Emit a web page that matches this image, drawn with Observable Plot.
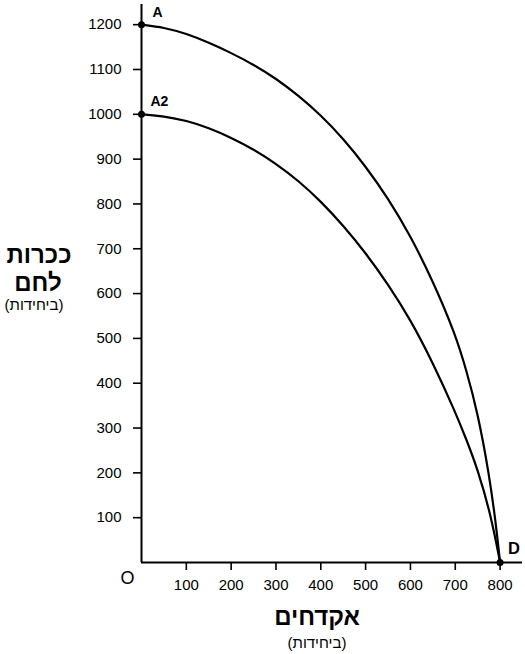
<!DOCTYPE html>
<html><head><meta charset="utf-8">
<script src="https://cdn.jsdelivr.net/npm/d3@7"></script>
<script src="https://cdn.jsdelivr.net/npm/@observablehq/plot@0.6"></script>
<style>
body{margin:0;background:#fff;}
#wrap{position:relative;width:525px;height:654px;font-family:"Liberation Sans",Arial,"DejaVu Sans",sans-serif;color:#000;}
.t{position:absolute;direction:rtl;text-align:center;white-space:nowrap;}
</style></head>
<body><div id="wrap"></div>
<script>
const xTicks = [100,200,300,400,500,600,700,800];
const yTicks = [100,200,300,400,500,600,700,800,900,1000,1100,1200];
const curveA_x = [0,50,100,150,200,250,300,350,400,450,500,550,600,650,700,725,750,775,790,800];
const curveA_y = [1200,1194,1180,1160,1137,1111,1080,1042,998,946,884,813,729,628,510,428,334,200,92,0];
const curveA2_x = [0,50,100,150,200,250,300,350,400,450,500,550,600,650,700,725,750,780,800];
const curveA2_y = [1000,996,986,970,948,922,890,852,806,752,691,621,542,446,336,274,208,104,0];
const pointLabels = ["A","A2","D"];
const pointX = [0,0,800];
const pointY = [1200,1000,0];
const yTitle = ["ככרות","לחם","(ביחידות)"];
const xTitle = ["אקדחים","(ביחידות)"];

const lineA = curveA_x.map((x,i)=>({x, y:curveA_y[i]}));
const lineA2 = curveA2_x.map((x,i)=>({x, y:curveA2_y[i]}));
const pts = pointLabels.map((l,i)=>({l, x:pointX[i], y:pointY[i]}));

const chart = Plot.plot({
  width:525, height:654,
  marginLeft:141, marginRight:3, marginTop:4, marginBottom:92,
  style:{fontFamily:'"Liberation Sans",Arial,sans-serif', color:"#000", background:"#fff"},
  x:{domain:[0,850]},
  y:{domain:[0,1245]},
  marks:[
    Plot.axisX({ticks:xTicks, tickSize:8, tickPadding:9, fontSize:15, label:null, strokeWidth:1.6, tickFormat:d=>String(d)}),
    Plot.axisY({ticks:yTicks, tickSize:8, tickPadding:12, fontSize:15, label:null, strokeWidth:1.6, tickFormat:d=>String(d)}),
    Plot.ruleY([0], {strokeWidth:2}),
    Plot.ruleX([0], {strokeWidth:2}),
    Plot.line(lineA, {x:"x", y:"y", curve:"basis", strokeWidth:2.2, stroke:"#000"}),
    Plot.line(lineA2, {x:"x", y:"y", curve:"basis", strokeWidth:2.2, stroke:"#000"}),
    Plot.dot(pts, {x:"x", y:"y", r:3.5, fill:"#000"}),
    Plot.text(pts.filter(d=>d.l==="A"), {x:"x", y:"y", text:"l", dx:11, dy:-12, textAnchor:"start", fontWeight:"bold", fontSize:14}),
    Plot.text(pts.filter(d=>d.l==="A2"), {x:"x", y:"y", text:"l", dx:9, dy:-13, textAnchor:"start", fontWeight:"bold", fontSize:14}),
    Plot.text(pts.filter(d=>d.l==="D"), {x:"x", y:"y", text:"l", dx:8, dy:-14, textAnchor:"start", fontWeight:"bold", fontSize:16.5}),
    Plot.text([{x:0,y:0}], {x:"x", y:"y", text:()=>"O", dx:-14, dy:16, fontSize:18})
  ]
});
const wrap = document.getElementById("wrap");
chart.style.position="absolute"; chart.style.left="0"; chart.style.top="0";
wrap.appendChild(chart);
function addText(txt, cx, top, size, weight){
  const d=document.createElement("div"); d.className="t"; d.textContent=txt;
  d.style.fontSize=size+"px"; d.style.fontWeight=weight; d.style.lineHeight="1";
  d.style.left=(cx-100)+"px"; d.style.width="200px"; d.style.top=top+"px";
  wrap.appendChild(d);
}
addText(yTitle[0], 39, 243, 24, "bold");
addText(yTitle[1], 38, 271, 24, "bold");
addText(yTitle[2], 34, 297, 15, "normal");
addText(xTitle[0], 317, 605, 24, "bold");
addText(xTitle[1], 317, 635, 15, "normal");
</script></body></html>
